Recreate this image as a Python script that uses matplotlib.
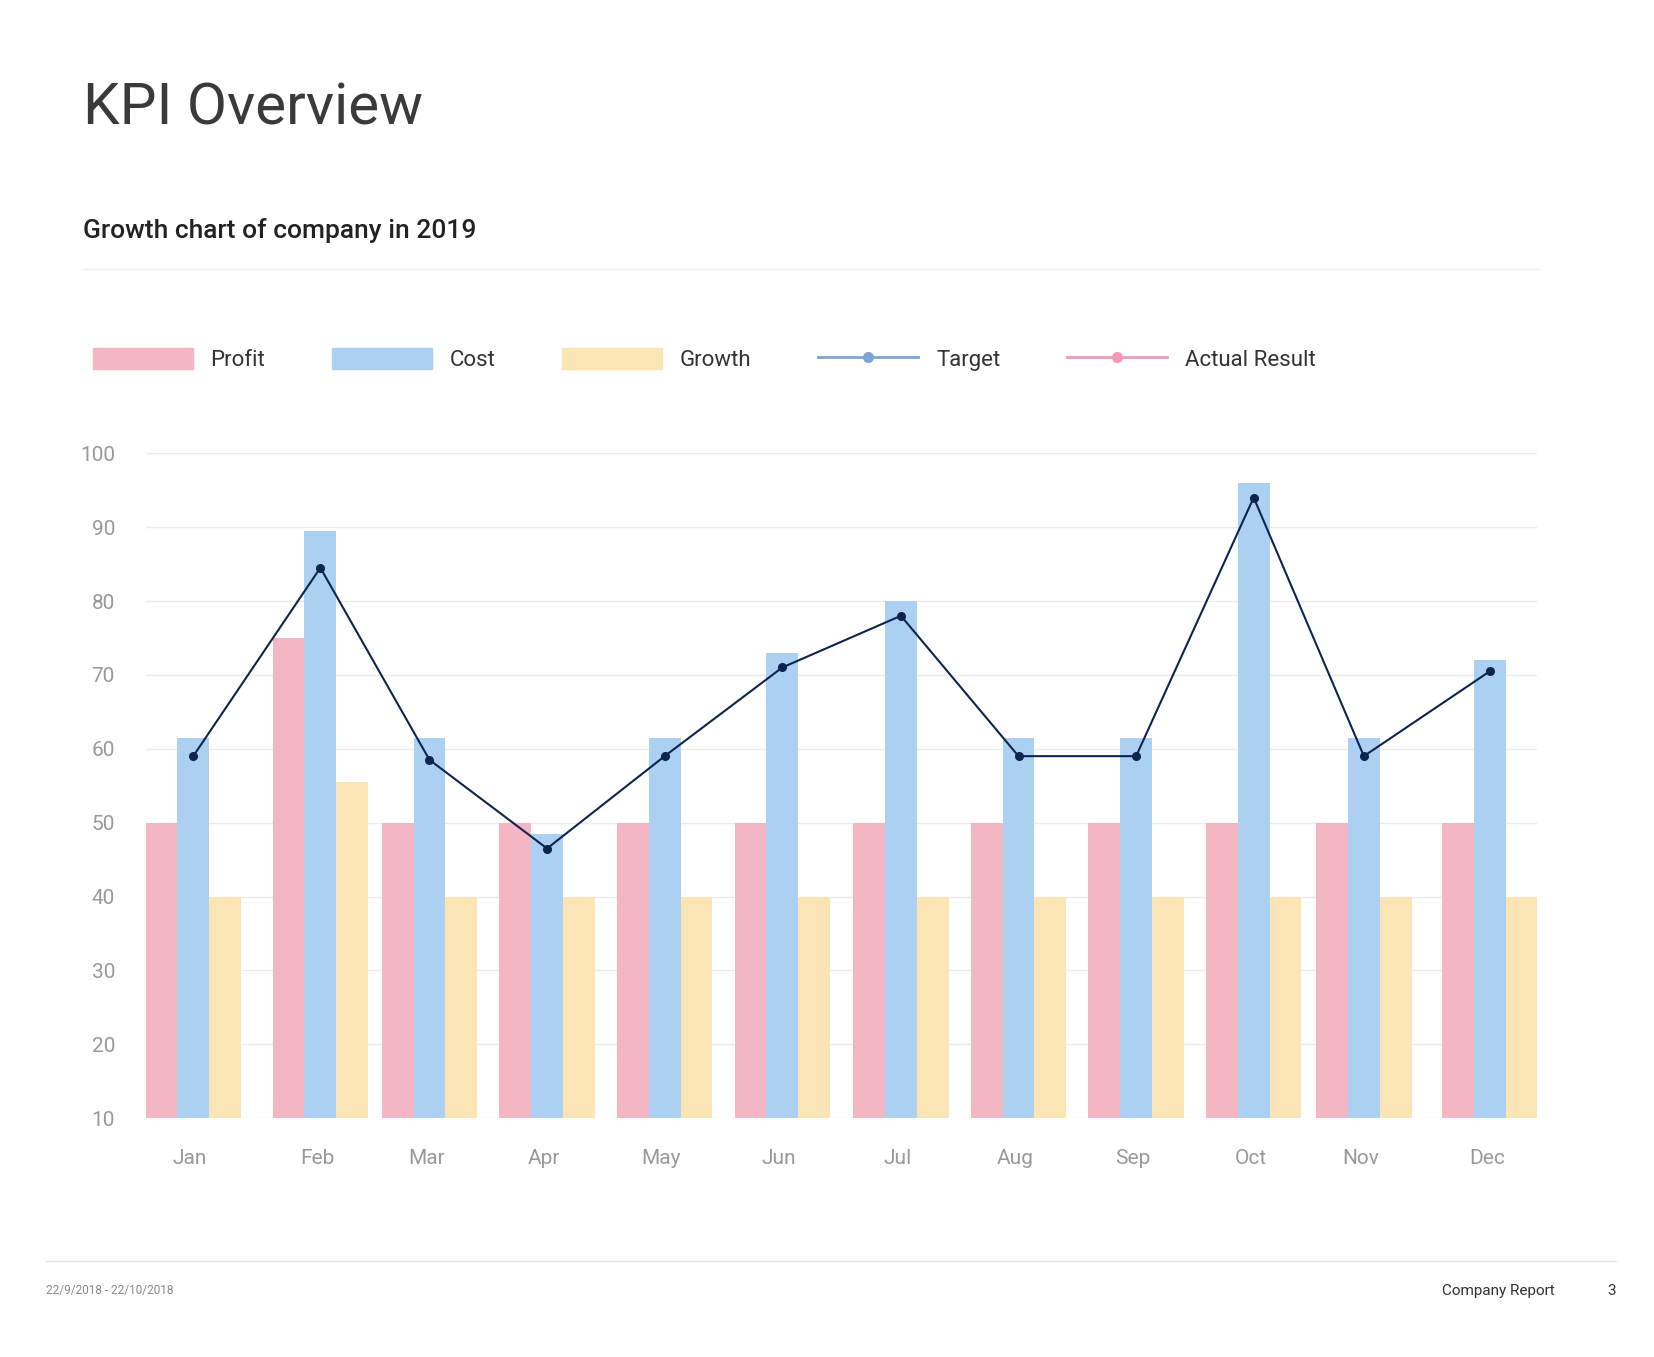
import matplotlib.pyplot as plt
from matplotlib.lines import Line2D
from matplotlib.patches import Patch

months = ["Jan", "Feb", "Mar", "Apr", "May", "Jun", "Jul", "Aug", "Sep", "Oct", "Nov", "Dec"]
profit = [50, 75, 50, 50, 50, 50, 50, 50, 50, 50, 50, 50]
cost = [61.5, 89.5, 61.5, 48.5, 61.5, 73, 80, 61.5, 61.5, 96, 61.5, 72]
growth = [40, 55.5, 40, 40, 40, 40, 40, 40, 40, 40, 40, 40]
target = [59, 84.5, 58.5, 46.5, 59, 71, 78, 59, 59, 94, 59, 70.5]

# group centres (in pixel-ish units of the original layout)
centers = [182, 302, 405, 516, 627, 738, 850, 961, 1072, 1183, 1287, 1406]
bw = 30

plt.rcParams['font.family'] = ['Roboto', 'DejaVu Sans']
fig = plt.figure(figsize=(16.54, 13.57), dpi=100)

fig.text(0.05, 0.92, "KPI Overview", fontsize=42, color="#3a3a3a", va="center")
fig.text(0.05, 0.83, "Growth chart of company in 2019", fontsize=19, color="#222222",
         va="center", fontweight="medium")
fig.add_artist(Line2D([0.05, 0.93], [0.802, 0.802], color="#eeeeee", lw=1))
fig.add_artist(Line2D([0.028, 0.977], [0.071, 0.071], color="#e4e4e4", lw=1))
fig.text(0.028, 0.049, "22/9/2018 - 22/10/2018", fontsize=8.5, color="#888888", va="center")
fig.text(0.94, 0.049, "Company Report", fontsize=11, color="#333333", va="center", ha="right")
fig.text(0.977, 0.049, "3", fontsize=11, color="#333333", va="center", ha="right")

ax = fig.add_axes([0.088, 0.176, 0.841, 0.49])
base = 10
ax.bar([c - bw for c in centers], [p - base for p in profit], bw, bottom=base, color="#f4b6c2")
ax.bar(centers, [c - base for c in cost], bw, bottom=base, color="#abd0f1")
ax.bar([c + bw for c in centers], [g - base for g in growth], bw, bottom=base, color="#fbe5b4")
ax.plot(centers, target, color="#0d2451", lw=1.5, marker="o", ms=5.5, zorder=4)

ax.set_xlim(137, 1450)
ax.set_ylim(10, 100)
ax.set_yticks(range(10, 101, 10))
ax.set_xticks([c - 3 for c in centers])
ax.set_xticklabels(months)
ax.tick_params(axis="both", length=0, labelsize=15, colors="#999999")
ax.tick_params(axis="x", pad=22)
ax.tick_params(axis="y", pad=22)
ax.grid(axis="y", color="#ebebeb", lw=1)
ax.set_axisbelow(True)
for s in ax.spines.values():
    s.set_visible(False)

handles = [
    Patch(color="#f4b6c2", label="Profit"),
    Patch(color="#abd0f1", label="Cost"),
    Patch(color="#fbe5b4", label="Growth"),
    Line2D([], [], color="#7fa3d3", lw=2, marker="o", ms=7, label="Target"),
    Line2D([], [], color="#f29ab0", lw=2, marker="o", ms=7, label="Actual Result"),
]
fig.legend(handles=handles, loc="center left", bbox_to_anchor=(0.044, 0.735), ncol=5,
           frameon=False, fontsize=16, handlelength=4.5, handleheight=1.1,
           columnspacing=3.0, handletextpad=0.8, labelcolor="#333333")

fig.savefig("out.png", dpi=100)
